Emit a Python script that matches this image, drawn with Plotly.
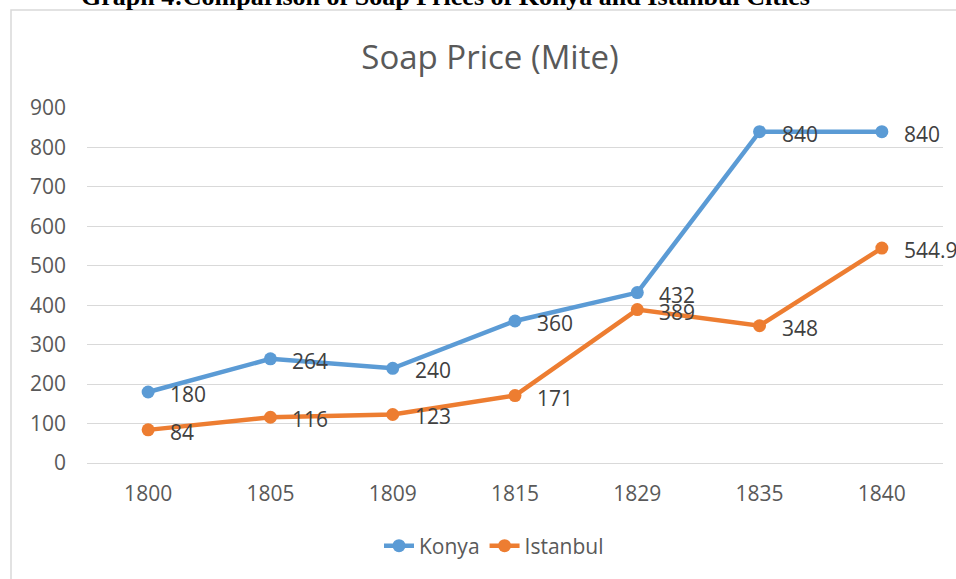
import plotly.graph_objects as go

years = ["1800", "1805", "1809", "1815", "1829", "1835", "1840"]
konya = [180, 264, 240, 360, 432, 840, 840]
istanbul = [84, 116, 123, 171, 389, 348, 544.9]
series_names = ["Konya", "Istanbul"]
y_ticks = [0, 100, 200, 300, 400, 500, 600, 700, 800, 900]

W, H = 956, 579
L, R, T, B = 87, 13, 108, 116
PW, PH = W - L - R, H - T - B

def px_x(p):
    return (p - L) / PW

def px_y(p):
    return (H - B - p) / PH

FONT = "Open Sans"
C_BLUE = "#5b9bd5"
C_ORANGE = "#ed7d31"

fig = go.Figure()
for name, vals, col in [(series_names[0], konya, C_BLUE), (series_names[1], istanbul, C_ORANGE)]:
    fig.add_trace(go.Scatter(
        x=years, y=vals, name=name, mode="lines+markers",
        line=dict(color=col, width=4.5),
        marker=dict(color=col, size=13),
        cliponaxis=False,
    ))

annotations = []
for vals in (konya, istanbul):
    for i, yv in enumerate(vals):
        annotations.append(dict(
            x=i, y=yv, xref="x", yref="y", text=f"{yv:g}",
            showarrow=False, xanchor="left", yanchor="middle",
            xshift=20, yshift=-2,
            font=dict(family=FONT, size=21, color="#404040"),
        ))

annotations.append(dict(
    x=px_x(445), y=px_y(13), xref="paper", yref="paper",
    text="<b>Graph 4:Comparison of Soap Prices of Konya and Istanbul Cities</b>",
    showarrow=False, xanchor="center", yanchor="bottom",
    font=dict(family="Liberation Serif", size=26, color="#000000"),
))

fig.update_layout(
    width=W, height=H,
    margin=dict(l=L, r=R, t=T, b=B),
    paper_bgcolor="white", plot_bgcolor="white",
    title=dict(
        text="Soap Price (Mite)", x=px_x(490), xref="paper", xanchor="center",
        y=1 - 57 / H, yref="container", yanchor="middle",
        font=dict(family=FONT, size=33, color="#595959"),
    ),
    xaxis=dict(
        type="category", range=[-0.5, 6.5], showgrid=False, showline=False,
        zeroline=False, ticks="", ticklabelstandoff=16,
        tickfont=dict(family=FONT, size=21, color="#595959"),
    ),
    yaxis=dict(
        range=[0, 900], tickvals=y_ticks, showgrid=True, gridcolor="#d9d9d9",
        gridwidth=1.3, zeroline=True, zerolinecolor="#d9d9d9", zerolinewidth=1.3,
        showline=False, ticks="", ticklabelstandoff=20,
        tickfont=dict(family=FONT, size=21, color="#595959"),
    ),
    legend=dict(
        orientation="h", x=px_x(494), xanchor="center", y=px_y(546), yanchor="middle",
        font=dict(family=FONT, size=21, color="#595959"),
        bgcolor="rgba(0,0,0,0)", itemclick=False,
    ),
    showlegend=True,
    annotations=annotations,
    shapes=[dict(
        type="rect", xref="paper", yref="paper",
        x0=px_x(11), x1=px_x(W + 20), y0=px_y(H + 20), y1=px_y(10),
        line=dict(color="#d9d9d9", width=1.5), fillcolor="rgba(0,0,0,0)", layer="below",
    )],
)

fig.write_html(
    "out.html",
    config={"displayModeBar": False},
    post_script="document.body.style.margin='0';document.body.style.padding='0';",
)
